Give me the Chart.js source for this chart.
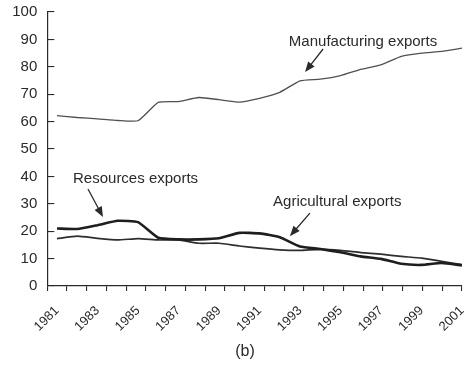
<!DOCTYPE html>
<html>
<head>
<meta charset="utf-8">
<script src="https://cdn.jsdelivr.net/npm/chart.js@4/dist/chart.umd.min.js"></script>
<style>
    html, body { margin: 0; padding: 0; background: #fff; }
    canvas { display: block; }
</style>
</head>
<body>
<canvas id="chart" width="467" height="370"></canvas>
<script>
// Years on the x axis
const years = [1981, 1982, 1983, 1984, 1985, 1986, 1987, 1988, 1989, 1990, 1991,
               1992, 1993, 1994, 1995, 1996, 1997, 1998, 1999, 2000, 2001];

// Share of exports (%)
const manufacturing = [62.2, 61.5, 61.0, 60.4, 60.3, 67.0, 67.3, 68.8, 68.0, 67.1, 68.5,
                       70.7, 74.9, 75.5, 76.8, 79.1, 80.7, 83.8, 85.0, 85.6, 86.8];
const resources = [21.0, 20.8, 22.2, 23.8, 23.3, 17.6, 17.0, 17.0, 17.4, 19.4, 19.2,
                   17.8, 14.4, 13.5, 12.3, 10.8, 9.9, 8.1, 7.7, 8.4, 7.5];
const agricultural = [17.3, 18.2, 17.4, 16.8, 17.3, 16.8, 16.8, 15.6, 15.6, 14.6, 13.8,
                      13.2, 13.0, 13.4, 13.0, 12.2, 11.6, 10.8, 10.2, 9.0, 7.8];

// Tick labels
const yTicks = [0, 10, 20, 30, 40, 50, 60, 70, 80, 90, 100];
const xLabelYears = [1981, 1983, 1985, 1987, 1989, 1991, 1993, 1995, 1997, 1999, 2001];

// The printed tick marks split the axis into 21 equal bins (22 marks)
const xTickMarks = [0, 1, 2, 3, 4, 5, 6, 7, 8, 9, 10, 11, 12, 13, 14, 15, 16, 17, 18, 19, 20, 21];

const subtitle = '(b)';

// Text labels with arrows, placed in data units (year, %)
const notes = [
    { text: 'Manufacturing exports', x: 1992.45, y: 89.0, from: [1994.14, 86.5], to: [1993.25, 78.1] },
    { text: 'Resources exports', x: 1981.79, y: 39.0, from: [1982.53, 35.4], to: [1983.27, 25.2] },
    { text: 'Agricultural exports', x: 1991.67, y: 30.6, from: [1993.49, 26.6], to: [1992.5, 18.2] }
];

const ink = '#2a2a2a';
const font = 'Liberation Sans, Arial, sans-serif';

const toPoints = (values) => values.map((v, i) => ({ x: years[i], y: v }));

// Draws the annotations and the "(b)" caption
const notesPlugin = {
    id: 'notes',
    afterDraw(chart) {
        const { ctx, scales: { x, y } } = chart;
        ctx.save();
        ctx.fillStyle = ink;
        ctx.strokeStyle = ink;
        ctx.font = '15px ' + font;
        ctx.textBaseline = 'middle';
        ctx.textAlign = 'left';

        notes.forEach(n => {
            ctx.fillText(n.text, x.getPixelForValue(n.x), y.getPixelForValue(n.y));

            const x1 = x.getPixelForValue(n.from[0]);
            const y1 = y.getPixelForValue(n.from[1]);
            const x2 = x.getPixelForValue(n.to[0]);
            const y2 = y.getPixelForValue(n.to[1]);
            const ang = Math.atan2(y2 - y1, x2 - x1);
            const head = 11;

            ctx.lineWidth = 1.3;
            ctx.beginPath();
            ctx.moveTo(x1, y1);
            ctx.lineTo(x2 - Math.cos(ang) * head * 0.8, y2 - Math.sin(ang) * head * 0.8);
            ctx.stroke();

            ctx.beginPath();
            ctx.moveTo(x2, y2);
            ctx.lineTo(x2 - head * Math.cos(ang - 0.38), y2 - head * Math.sin(ang - 0.38));
            ctx.lineTo(x2 - head * Math.cos(ang + 0.38), y2 - head * Math.sin(ang + 0.38));
            ctx.closePath();
            ctx.fill();
        });

        ctx.font = '16px ' + font;
        ctx.textAlign = 'center';
        ctx.fillText(subtitle, 245, 352);
        ctx.restore();
    }
};

new Chart(document.getElementById('chart'), {
    type: 'line',
    data: {
        datasets: [
            { label: 'Manufacturing exports', data: toPoints(manufacturing), xAxisID: 'x', yAxisID: 'y', borderColor: '#505050', borderWidth: 1.3 },
            { label: 'Resources exports', data: toPoints(resources), xAxisID: 'x', yAxisID: 'y', borderColor: '#1e1e1e', borderWidth: 2.6 },
            { label: 'Agricultural exports', data: toPoints(agricultural), xAxisID: 'x', yAxisID: 'y', borderColor: '#2e2e2e', borderWidth: 1.7 }
        ]
    },
    options: {
        responsive: false,
        animation: false,
        elements: {
            point: { radius: 0 },
            line: { tension: 0.15 }
        },
        layout: {
            padding: { top: 12, right: 5, bottom: 0, left: 0 }
        },
        plugins: {
            legend: { display: false },
            tooltip: { enabled: false }
        },
        scales: {
            // axis line and tick marks only
            xMarks: {
                type: 'linear',
                axis: 'x',
                position: 'bottom',
                weight: 0,
                min: 0,
                max: 21,
                afterBuildTicks: (scale) => { scale.ticks = xTickMarks.map(v => ({ value: v })); },
                afterFit: (scale) => { scale.height = 0; scale.paddingLeft = 0; scale.paddingRight = 0; },
                border: { display: true, color: ink, width: 1.2 },
                grid: { drawOnChartArea: false, tickLength: 5, color: ink, lineWidth: 1.1 },
                ticks: { display: false }
            },
            // data positions and year labels
            x: {
                type: 'linear',
                position: 'bottom',
                weight: 1,
                min: 1980.52,
                max: 2001,
                afterBuildTicks: (scale) => { scale.ticks = years.map(v => ({ value: v })); },
                afterFit: (scale) => { scale.height = 84; scale.paddingLeft = 0; scale.paddingRight = 0; },
                border: { display: false },
                grid: { display: false },
                ticks: {
                    color: ink,
                    font: { family: font, size: 13 },
                    maxRotation: 45,
                    minRotation: 45,
                    autoSkip: false,
                    padding: 9,
                    callback: (v) => xLabelYears.includes(v) ? String(v) : ''
                }
            },
            y: {
                min: 0,
                max: 100,
                afterBuildTicks: (scale) => { scale.ticks = yTicks.map(v => ({ value: v })); },
                afterFit: (scale) => { scale.width = 47.3; scale.paddingTop = 0; scale.paddingBottom = 0; },
                border: { display: true, color: ink, width: 1.2 },
                grid: { drawOnChartArea: false, tickLength: -7, color: ink, lineWidth: 1.1 },
                ticks: {
                    color: ink,
                    font: { family: font, size: 15 },
                    padding: 17
                }
            }
        }
    },
    plugins: [notesPlugin]
});
</script>
</body>
</html>
